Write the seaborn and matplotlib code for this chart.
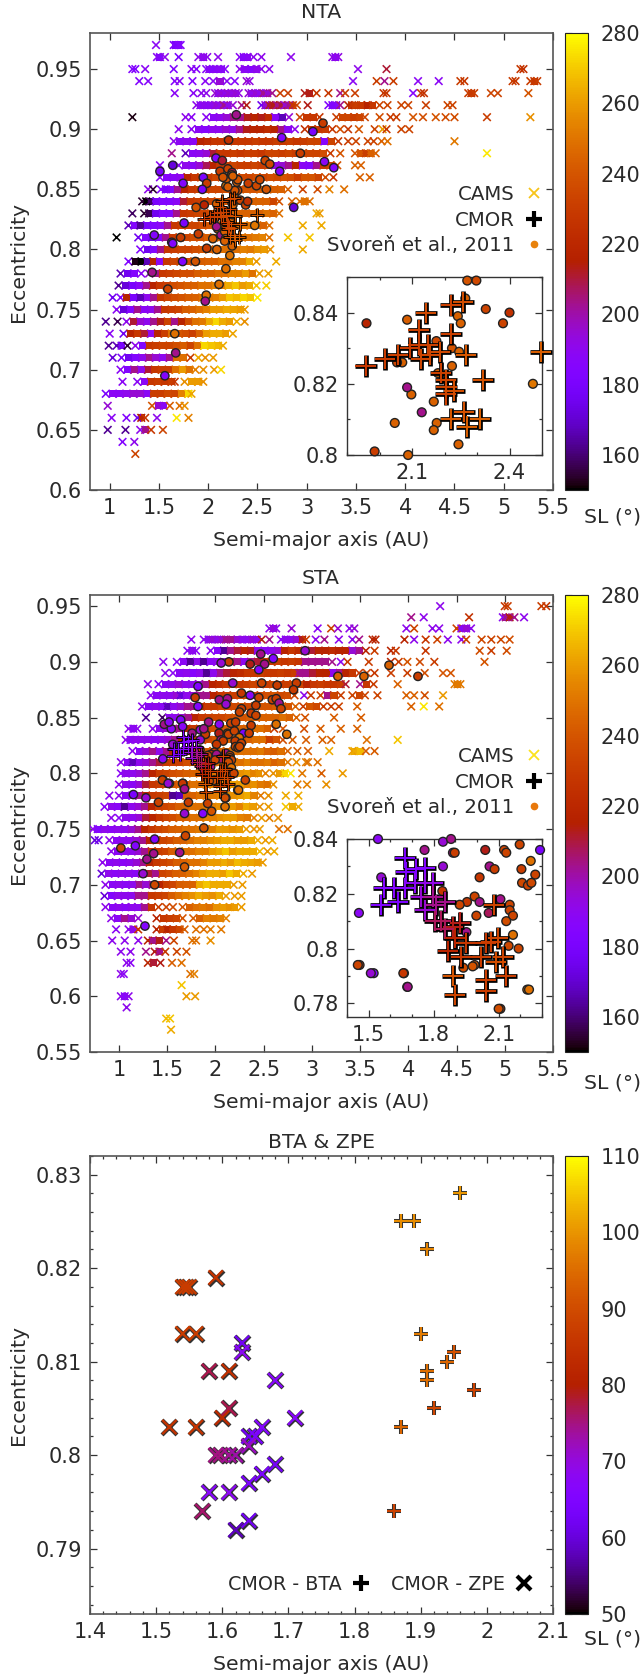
import matplotlib
matplotlib.use("Agg")
import matplotlib.pyplot as plt
import seaborn as sns
import numpy as np
from matplotlib.lines import Line2D
from matplotlib.cm import ScalarMappable
from matplotlib.colors import Normalize, FuncNorm
from matplotlib.ticker import MultipleLocator

# ---------- NTA, CAMS: one list per eccentricity row, flat pairs a, SL ----------
NTA_E = [.97,.96,.95,.94,.93,.92,.91,.90,.89,.88,.87,.86,.85,.84,.83,.82,.81,.80,.79,.78,.77,.76,.75,.74,.73,.72,.71,.70,.69,.68,.67,.66,.65,.64,.63]
NTA_ROWS = [
[1.47,195,1.65,190,1.67,185,1.70,190,1.72,190],
[1.48,195,1.51,190,1.56,197,1.70,185,1.90,197,1.95,197,1.99,197,2.10,197,2.32,195,2.36,192,2.40,195,2.46,197,2.54,197,2.84,197,3.26,198,3.29,195,3.32,198],
[1.23,190,1.26,188,1.36,195,1.65,188,1.83,195,1.88,192,1.98,192,2.01,195,2.05,190,2.09,195,2.13,195,2.17,192,2.32,197,2.37,195,2.44,192,2.49,197,2.54,197,2.62,197,3.52,197,3.81,210,5.17,222,5.20,220],
[1.30,190,1.39,192,1.66,192,1.71,195,1.84,190,1.97,195,2.05,195,2.12,200,2.19,195,2.27,192,2.39,200,2.42,198,3.47,195,3.71,225,3.79,205,3.88,225,4.13,195,4.34,195,4.56,225,4.60,222,5.09,225,5.12,222,5.27,225,5.31,222,5.34,225],
[1.66,195,1.85,195,1.93,197,1.98,197,2.07,200,2.10,197,2.13,200,2.17,197,2.20,200,2.24,198,2.28,200,2.31,198,2.41,200,2.44,197,2.48,200,2.52,197,2.56,205,2.60,200,2.65,205,2.73,225,2.81,225,2.98,212,3.03,212,3.10,222,3.22,222,3.34,205,3.39,225,3.49,225,3.78,222,3.81,222,4.08,192,4.16,222,4.19,220,4.64,225,4.67,222,4.70,225,4.87,228,4.94,228,5.25,235],
[1.88,197,1.92,195,1.96,197,2.00,195,2.04,197,2.08,200,2.12,197,2.16,205,2.20,197,2.25,200,2.34,205,2.39,212,2.54,180,2.58,200,2.62,210,2.66,212,2.70,205,2.74,210,2.78,200,2.82,205,2.86,222,2.90,228,3.01,212,3.22,190,3.26,188,3.30,192,3.34,205,3.42,215,3.46,222,3.50,225,3.55,222,3.62,215,3.67,222,3.74,228,3.82,228,3.96,228,4.03,228,4.21,225,4.43,228,4.48,228],
[1.23,152,1.77,197,1.83,195,1.98,195,2.05,195,2.12,197,2.19,200,2.26,205,2.33,205,2.40,212,2.47,215,2.54,212,2.61,218,2.68,195,2.75,170,2.82,200,2.93,228,3.00,222,3.07,222,3.13,222,3.30,225,3.36,228,3.42,228,3.48,225,3.54,228,3.59,228,3.74,232,3.85,225,3.91,225,4.08,235,4.18,232,4.31,235,4.41,232,4.50,232,4.83,225,5.27,255],
[1.70,197,1.83,195,1.90,195,1.97,192,2.04,197,2.11,197,2.18,200,2.25,198,2.32,205,2.39,212,2.46,215,2.53,215,2.60,218,2.67,215,2.74,205,2.81,195,2.88,197,2.98,220,3.05,222,3.12,222,3.19,225,3.26,222,3.34,232,3.42,222,3.53,235,3.69,228,3.77,258,3.81,222,3.96,228,4.04,228],
[1.65,197,1.71,195,1.78,197,1.85,195,1.92,215,1.99,218,2.06,222,2.13,222,2.20,220,2.27,222,2.34,222,2.41,222,2.48,225,2.55,222,2.62,222,2.69,225,2.76,222,2.83,225,2.90,222,2.97,225,3.04,228,3.11,228,3.18,192,3.25,228,3.32,222,3.42,225,3.50,228,3.62,228,3.68,228,3.76,240,3.82,245,4.50,248],
[1.63,205,1.77,170,1.84,195,1.91,197,1.98,200,2.05,210,2.12,222,2.19,222,2.26,225,2.33,222,2.40,225,2.47,225,2.54,222,2.61,228,2.68,228,2.75,225,2.82,228,2.89,225,2.96,228,3.03,228,3.10,228,3.17,232,3.24,225,3.34,235,3.49,235,3.55,235,3.60,225,3.65,240,3.70,240,4.83,275],
[1.51,195,1.70,195,1.77,197,1.84,195,1.91,200,1.98,208,2.05,215,2.12,222,2.19,225,2.26,228,2.33,225,2.40,225,2.47,228,2.54,225,2.61,228,2.68,198,2.75,200,2.82,205,2.89,215,2.96,195,3.03,192,3.10,205,3.17,225,3.24,228,3.31,235,3.49,240,3.55,240],
[1.51,195,1.58,192,1.65,195,1.72,197,1.79,215,1.86,222,1.93,225,2.00,222,2.07,228,2.14,228,2.21,225,2.28,228,2.35,230,2.42,228,2.49,232,2.56,228,2.63,232,2.70,230,2.77,235,2.84,232,2.91,225,2.98,235,3.05,235,3.12,228,3.19,232,3.27,225,3.54,240,3.64,240],
[1.39,197,1.44,155,1.52,190,1.57,185,1.62,190,1.69,205,1.76,215,1.83,222,1.90,225,1.97,222,2.04,228,2.11,228,2.18,232,2.25,228,2.32,232,2.39,235,2.46,235,2.53,238,2.60,240,2.67,238,2.74,240,2.81,240,2.96,228,3.11,232,3.23,250,3.38,245],
[1.33,155,1.37,150,1.41,160,1.47,185,1.54,190,1.61,190,1.68,195,1.75,210,1.82,222,1.89,225,1.96,228,2.03,228,2.10,232,2.17,235,2.24,232,2.31,238,2.38,238,2.45,240,2.52,240,2.59,240,2.66,228,2.72,235,2.85,240,2.93,245,2.98,245,3.03,245],
[1.23,160,1.35,155,1.40,158,1.47,180,1.54,190,1.61,190,1.68,205,1.75,222,1.82,225,1.89,228,1.96,228,2.03,232,2.10,232,2.17,235,2.24,238,2.31,240,2.38,240,2.45,240,2.52,240,2.59,245,2.66,240,2.72,245,3.10,262,3.13,258],
[1.19,170,1.25,190,1.31,165,1.38,185,1.45,190,1.52,195,1.59,205,1.66,222,1.73,225,1.80,228,1.87,228,1.94,232,2.01,235,2.08,235,2.15,240,2.22,240,2.29,245,2.36,245,2.43,245,2.50,248,2.56,240,2.62,245,2.96,262,3.15,262],
[1.07,150,1.29,180,1.36,190,1.43,175,1.50,190,1.57,205,1.64,222,1.71,225,1.78,228,1.85,232,1.92,232,1.99,238,2.06,238,2.13,240,2.20,245,2.27,245,2.34,245,2.41,245,2.48,248,2.55,250,2.62,245,2.81,268,3.03,268],
[1.31,190,1.38,180,1.45,190,1.52,205,1.59,222,1.66,225,1.73,228,1.80,228,1.87,232,1.94,235,2.01,238,2.08,240,2.15,245,2.22,245,2.29,245,2.36,250,2.43,248,2.50,255,2.57,258,2.63,255,2.96,262],
[1.19,188,1.26,152,1.32,150,1.38,170,1.44,215,1.51,195,1.58,222,1.65,228,1.72,228,1.79,232,1.86,235,1.93,238,2.00,240,2.07,240,2.14,245,2.21,245,2.28,250,2.35,250,2.42,262,2.49,258,2.69,262],
[1.11,170,1.18,180,1.25,190,1.32,195,1.40,200,1.47,205,1.54,222,1.61,225,1.68,228,1.75,232,1.82,232,1.89,238,1.96,240,2.03,240,2.10,245,2.17,245,2.24,250,2.31,250,2.38,258,2.45,245,2.52,258,2.61,260],
[1.09,165,1.16,175,1.23,185,1.30,195,1.37,205,1.44,215,1.51,222,1.58,225,1.65,232,1.72,235,1.79,238,1.86,240,1.93,245,2.00,245,2.07,250,2.14,250,2.21,262,2.28,268,2.35,258,2.42,262,2.49,268,2.59,270],
[1.03,180,1.11,190,1.17,215,1.24,185,1.31,170,1.38,197,1.45,205,1.52,222,1.59,228,1.66,232,1.73,235,1.80,238,1.87,240,1.94,245,2.01,248,2.08,250,2.15,258,2.22,268,2.29,265,2.36,272,2.43,268,2.50,275],
[1.07,195,1.14,175,1.21,190,1.28,205,1.35,195,1.42,197,1.49,205,1.56,222,1.63,225,1.70,228,1.77,238,1.84,240,1.91,245,1.98,250,2.05,258,2.12,258,2.19,262,2.26,260,2.33,258,2.37,258],
[.96,165,1.08,158,1.17,197,1.24,210,1.31,200,1.38,197,1.45,205,1.52,212,1.59,228,1.66,205,1.73,215,1.80,232,1.87,245,1.94,248,2.01,262,2.08,272,2.15,262,2.22,258,2.29,262,2.37,255],
[1.00,195,1.14,180,1.21,215,1.28,222,1.35,210,1.42,197,1.49,215,1.56,225,1.63,245,1.70,235,1.77,232,1.84,225,1.91,240,1.98,258,2.05,262,2.12,262,2.18,258,2.25,260],
[.99,165,1.07,170,1.12,185,1.18,155,1.26,197,1.33,190,1.40,222,1.47,225,1.54,228,1.61,228,1.68,232,1.75,238,1.82,228,1.89,245,1.96,272,2.03,268,2.10,265,2.15,262],
[1.03,175,1.12,185,1.19,180,1.26,190,1.33,197,1.40,205,1.47,200,1.54,197,1.61,205,1.68,245,1.75,245,1.82,225,1.90,262,1.97,255,2.05,258],
[1.11,195,1.18,190,1.25,205,1.32,197,1.39,210,1.46,222,1.53,225,1.60,225,1.67,245,1.74,258,1.81,245,1.87,250,1.95,255,2.06,258,2.13,272],
[1.13,195,1.28,195,1.35,195,1.42,222,1.49,225,1.56,222,1.63,225,1.66,222,1.76,255,1.83,258,1.90,258,1.95,255],
[.96,185,1.03,195,1.10,195,1.17,197,1.24,200,1.31,200,1.38,195,1.45,225,1.52,225,1.59,230,1.66,228,1.73,250,1.80,272,1.83,260],
[.98,200,1.43,235,1.50,200,1.55,195,1.61,238,1.71,245,1.76,255],
[1.02,195,1.17,190,1.28,180,1.32,215,1.36,222,1.48,197,1.68,275,1.80,250],
[.98,165,1.16,165,1.31,197,1.36,205,1.42,222,1.54,228],
[1.13,190,1.25,197],
[1.26,228],
]

# ---------- STA, CAMS ----------
STA_E = [.95,.94,.93,.92,.91,.90,.89,.88,.87,.86,.85,.84,.83,.82,.81,.80,.79,.78,.77,.76,.75,.74,.73,.72,.71,.70,.69,.68,.67,.66,.65,.64,.63,.62,.61,.60,.59,.58,.57]
STA_ROWS = [
[4.33,197,5.00,222,5.03,225,5.38,225,5.43,222],
[4.03,205,4.16,197,4.63,220,4.98,195,5.01,205,5.05,212,5.10,205,5.20,197],
[2.56,197,2.60,200,2.63,197,2.79,200,3.06,195,3.20,228,3.27,200,3.39,197,3.44,200,3.98,197,4.06,228,4.25,197,4.32,197,4.50,228,4.55,195,4.60,200,4.65,197],
[1.75,197,1.88,197,1.93,197,1.97,200,2.02,197,2.06,200,2.11,205,2.16,205,2.23,200,2.28,197,2.33,197,2.38,200,2.43,197,2.48,212,2.56,205,2.68,195,2.73,197,2.78,197,2.84,200,2.90,212,2.94,225,3.04,197,3.13,205,3.28,197,3.42,197,3.49,205,3.63,215,3.66,215,3.96,215,4.06,197,4.18,222,4.30,228,4.41,197,4.55,197,4.60,228,4.76,230,4.86,228,4.96,230,5.05,232],
[1.71,195,1.76,197,1.80,195,1.95,195,2.02,192,2.09,165,2.16,205,2.23,210,2.30,215,2.37,212,2.44,197,2.51,195,2.58,197,2.65,200,2.72,215,2.79,222,2.86,218,2.93,205,3.00,210,3.07,215,3.14,215,3.21,218,3.28,215,3.35,215,3.42,200,3.49,205,3.56,215,3.65,225,3.82,215,3.87,222,4.18,222,4.74,232,4.86,225,5.02,232],
[1.46,197,1.60,195,1.67,195,1.74,165,1.81,197,1.88,165,1.95,195,2.02,197,2.09,200,2.16,210,2.23,205,2.30,197,2.37,205,2.44,210,2.51,222,2.58,222,2.65,225,2.72,222,2.79,225,2.86,222,2.93,205,3.00,205,3.07,205,3.14,205,3.21,205,3.30,197,3.37,225,3.59,225,3.82,215,3.90,225,3.99,235,4.12,230,4.27,225,4.79,235],
[1.48,197,1.56,195,1.63,195,1.70,197,1.77,192,1.84,197,1.91,165,1.98,197,2.05,205,2.12,210,2.19,215,2.26,218,2.33,222,2.40,222,2.47,225,2.54,222,2.61,222,2.68,225,2.75,222,2.82,225,2.87,205,2.94,205,3.01,210,3.08,215,3.15,215,3.22,197,3.29,205,3.35,215,3.42,222,3.49,222,3.57,228,3.65,222,3.82,225,3.99,225,4.17,232,4.36,235,4.44,235],
[1.30,197,1.41,195,1.48,195,1.55,197,1.62,200,1.69,197,1.76,197,1.83,200,1.90,205,1.97,215,2.04,218,2.11,222,2.18,222,2.25,222,2.32,225,2.39,228,2.46,225,2.53,225,2.60,228,2.67,222,2.74,225,2.81,228,2.88,228,2.95,215,3.02,222,3.09,225,3.16,222,3.23,222,3.30,225,3.35,210,3.50,205,3.57,222,3.64,225,3.89,240,4.48,248,4.51,248,4.54,248],
[1.33,197,1.39,195,1.46,197,1.53,197,1.60,200,1.64,175,1.70,197,1.77,200,1.84,205,1.91,205,1.98,215,2.05,222,2.12,225,2.19,225,2.26,228,2.33,228,2.40,230,2.47,228,2.54,232,2.61,235,2.68,230,2.75,232,2.82,228,2.92,197,2.99,225,3.09,228,3.16,205,3.23,228,3.30,225,3.42,228,3.49,228,3.55,228,3.68,228,3.98,240,4.06,240,4.17,232,4.36,258],
[1.24,197,1.31,195,1.38,197,1.45,195,1.50,170,1.57,197,1.64,200,1.71,205,1.78,205,1.85,215,1.92,222,1.99,222,2.06,228,2.13,228,2.20,230,2.27,232,2.34,228,2.41,232,2.48,235,2.55,235,2.62,238,2.69,240,2.76,235,2.83,240,2.91,225,2.98,235,3.05,230,3.12,225,3.20,225,3.28,228,3.47,238,4.03,240,4.16,275,4.32,245],
[1.28,165,1.45,160,1.52,197,1.58,197,1.65,200,1.72,205,1.79,215,1.86,222,1.93,225,2.00,228,2.07,228,2.14,232,2.21,235,2.28,235,2.35,238,2.42,240,2.49,240,2.56,240,2.63,240,2.70,245,2.77,240,2.84,240,2.93,235,3.23,238,3.51,238],
[1.10,197,1.15,195,1.19,197,1.35,197,1.42,197,1.49,200,1.56,205,1.63,205,1.70,215,1.77,222,1.84,225,1.91,228,1.98,232,2.05,235,2.12,238,2.19,238,2.26,240,2.33,240,2.40,245,2.47,245,2.54,240,2.61,225,2.70,235,2.92,232,3.09,238,3.30,240,3.47,240],
[1.07,197,1.12,195,1.17,197,1.23,197,1.30,197,1.37,195,1.44,197,1.51,200,1.58,205,1.65,215,1.72,222,1.79,222,1.86,228,1.93,230,2.00,235,2.07,238,2.14,240,2.21,240,2.28,235,2.35,240,2.42,245,2.49,245,2.56,225,2.63,235,2.70,232,2.80,238,2.94,238,3.11,240,3.20,240,3.57,245,3.89,268],
[1.14,197,1.21,195,1.28,200,1.35,205,1.42,197,1.49,205,1.56,215,1.63,222,1.70,225,1.77,228,1.84,232,1.91,235,1.98,238,2.05,240,2.12,240,2.19,245,2.26,245,2.33,245,2.40,245,2.47,248,2.54,240,2.61,238,2.68,245,2.75,240,2.85,238,2.96,238,3.18,262,3.42,258,3.44,262,3.50,265,3.56,238,3.65,238],
[1.02,197,1.09,195,1.14,170,1.21,197,1.28,200,1.35,205,1.42,210,1.49,222,1.56,225,1.63,225,1.70,232,1.77,235,1.84,238,1.91,240,1.98,240,2.05,245,2.12,245,2.19,248,2.26,245,2.33,250,2.40,245,2.47,245,2.54,248,2.61,240,2.68,245,2.75,248,2.84,255,2.94,250,2.96,245,3.06,245],
[1.02,195,1.07,197,1.14,197,1.21,200,1.28,205,1.35,215,1.42,225,1.49,228,1.56,232,1.63,235,1.70,238,1.77,240,1.84,240,1.91,245,1.98,245,2.05,248,2.12,250,2.19,250,2.26,255,2.33,258,2.40,250,2.45,255,2.52,250,2.60,255,2.67,258,2.72,272,2.78,275,2.90,248,3.10,238,3.32,258],
[1.00,197,1.07,197,1.14,195,1.21,200,1.28,210,1.35,222,1.42,225,1.49,228,1.56,235,1.63,238,1.70,240,1.77,245,1.84,245,1.91,248,1.98,250,2.05,250,2.12,255,2.19,258,2.26,258,2.33,250,2.40,255,2.47,248,2.54,245,2.60,255,2.85,248,2.95,250,3.15,255],
[.90,197,1.00,197,1.07,195,1.14,197,1.21,205,1.28,215,1.35,222,1.42,225,1.49,228,1.56,165,1.63,170,1.70,238,1.77,240,1.84,245,1.91,245,1.98,248,2.05,250,2.12,255,2.19,255,2.26,258,2.33,262,2.40,250,2.47,248,2.55,255,2.73,262,2.86,262],
[.85,195,.92,197,.99,195,1.06,165,1.13,197,1.20,200,1.27,205,1.34,215,1.41,225,1.48,228,1.55,232,1.62,238,1.69,240,1.76,245,1.83,245,1.90,248,1.97,250,2.04,255,2.11,258,2.18,258,2.25,250,2.32,262,2.39,258,2.46,255,2.55,258,2.73,268,2.80,262,2.86,262],
[.92,197,1.00,195,1.07,197,1.14,197,1.21,200,1.28,210,1.35,215,1.42,222,1.49,228,1.56,232,1.63,238,1.70,240,1.77,245,1.84,245,1.91,250,1.98,250,2.05,255,2.12,258,2.19,258,2.26,250,2.33,248,2.40,250,2.48,258,2.56,250,2.65,255],
[.73,197,.78,190,.85,197,.92,195,.99,197,1.06,197,1.13,200,1.20,205,1.27,215,1.34,222,1.41,228,1.48,232,1.55,238,1.62,240,1.69,245,1.76,245,1.83,248,1.90,250,1.97,250,2.04,258,2.11,258,2.18,255,2.25,258,2.32,258,2.40,255,2.46,258,2.66,245,2.75,245],
[.75,175,.79,180,.90,197,.97,195,1.04,197,1.11,197,1.18,200,1.25,205,1.32,215,1.39,222,1.46,228,1.53,232,1.60,238,1.67,240,1.74,245,1.81,250,1.88,250,1.95,255,2.02,258,2.09,262,2.16,262,2.23,258,2.30,258,2.37,262,2.44,262,2.52,258,2.59,262],
[.92,197,.99,195,1.06,197,1.13,197,1.20,200,1.27,205,1.34,222,1.41,225,1.48,228,1.55,238,1.62,240,1.69,245,1.76,245,1.83,250,1.90,250,1.97,258,2.04,262,2.11,268,2.18,258,2.25,262,2.32,262,2.39,262,2.46,265,2.54,258,2.61,262],
[.83,197,.90,195,.97,197,1.04,195,1.11,197,1.18,200,1.25,205,1.32,215,1.39,222,1.46,228,1.53,232,1.60,238,1.67,240,1.74,245,1.81,245,1.88,250,1.95,258,2.02,258,2.09,262,2.16,258,2.23,265,2.30,262,2.37,260,2.44,258,2.49,258],
[.82,175,.89,197,.96,195,1.03,197,1.10,197,1.17,195,1.24,205,1.31,210,1.38,205,1.45,228,1.52,232,1.59,238,1.66,240,1.73,245,1.80,250,1.87,258,1.94,262,2.01,262,2.08,258,2.15,268,2.22,262,2.29,262,2.38,258],
[.86,197,.93,195,1.00,197,1.07,195,1.14,197,1.21,205,1.28,200,1.35,205,1.42,215,1.49,225,1.56,228,1.63,238,1.70,240,1.77,240,1.84,262,1.91,268,1.98,262,2.05,262,2.12,262,2.19,258,2.28,258],
[.85,175,.92,190,.99,197,1.06,197,1.13,197,1.20,205,1.27,205,1.34,222,1.41,225,1.48,228,1.55,238,1.62,245,1.69,250,1.76,255,1.83,262,1.90,258,1.97,255,2.04,262,2.11,258,2.20,258,2.27,258],
[.86,197,.93,195,1.00,197,1.07,195,1.13,197,1.20,197,1.27,205,1.34,222,1.41,225,1.49,228,1.56,232,1.66,238,1.73,240,1.80,245,1.87,248,1.94,245,2.01,255,2.08,258,2.15,255,2.20,258,2.27,258],
[.92,197,.99,195,1.06,205,1.13,200,1.20,200,1.39,215,1.46,222,1.53,225,1.60,228,1.66,235,1.77,238,1.84,240,1.91,250,1.98,248,2.05,250,2.11,250],
[.97,195,1.10,197,1.15,197,1.20,222,1.39,215,1.45,225,1.50,215,1.56,222,1.63,228,1.68,238,1.80,245,1.88,245,1.95,248,2.06,248],
[.93,197,1.06,197,1.20,197,1.30,215,1.35,205,1.42,212,1.49,205,1.57,228,1.76,245,1.80,245,1.95,255],
[1.02,197,1.12,197,1.28,205,1.37,212,1.42,205,1.48,222,1.60,228,1.70,235],
[1.08,197,1.12,195,1.30,215,1.36,210,1.43,212,1.55,238,1.65,245],
[1.02,197,1.05,195,1.74,245,1.78,250],
[1.65,268],
[1.02,197,1.06,192,1.10,197,1.70,258,1.79,258],
[1.08,197],
[1.49,265,1.53,268],
[1.54,262],
[1.46,265],
]

# ---------- Svoren et al. 2011 (circles) ----------
NTA_SV_A = [1.96,1.985,2.047,2.085,2.088,2.07,2.054,2.098,2.085,2.13,2.175,2.18,2.167,2.176,2.167,2.223,2.223,2.243,2.245,2.241,2.25,2.264,2.298,2.327,2.38,2.40,2.472,2.285,2.207,2.746,3.165,3.063,2.935,2.079,1.64,1.51,3.18,3.275,2.726,2.578,2.625,2.143,2.12,2.2,2.243,1.95,1.985,1.94,1.745,2.406,2.49,2.524,2.59,2.18,2.187,2.27,2.29,2.3,2.868,1.877,1.755,1.452,1.63,1.72,1.9,1.64,2.22,1.74,1.87,2.18,1.43,2.11,1.59,1.98,1.97,1.66,1.67,1.56,2.15,2.24,2.2,2.25]
NTA_SV_E = [.837,.801,.809,.838,.800,.826,.826,.817,.819,.812,.832,.823,.815,.809,.807,.830,.825,.803,.829,.839,.837,.844,.849,.841,.837,.840,.820,.912,.891,.893,.905,.898,.880,.876,.870,.865,.873,.868,.865,.874,.871,.874,.865,.867,.864,.860,.855,.850,.855,.855,.853,.858,.850,.853,.859,.849,.856,.858,.835,.835,.822,.812,.806,.810,.813,.805,.795,.79,.79,.784,.781,.771,.767,.762,.757,.73,.714,.695,.860,.862,.852,.861]
NTA_SV_SL = [215,225,240,238,240,240,228,240,205,205,230,238,240,240,240,235,240,240,240,240,240,240,230,228,228,220,247,205,220,190,225,185,225,190,175,185,195,190,190,230,230,210,225,228,210,185,225,185,190,225,230,230,235,248,235,235,238,235,175,235,185,190,190,225,225,190,247,190,235,245,205,245,228,245,205,245,205,190,235,240,238,240]

# ---------- CMOR (plus) ----------
NTA_CM_A = [1.957,2.018,2.057,2.093,2.12,2.12,2.129,2.142,2.149,2.154,2.185,2.188,2.204,2.204,2.206,2.23,2.219,2.257,2.219,2.267,2.318,2.219,2.259,2.269,2.31,2.498]
NTA_CM_E = [.825,.827,.828,.830,.835,.831,.827,.840,.831,.828,.829,.823,.821,.817,.819,.818,.842,.843,.834,.828,.821,.810,.812,.808,.810,.829]
NTA_CM_SL = [222,224,226,224,226,224,228,230,226,228,230,226,228,226,228,232,226,232,226,236,234,236,234,238,238,238]

STA_SV_A = [1.543,1.758,1.843,1.889,1.897,2.038,2.125,2.135,2.197,2.291,2.248,1.843,2.058,2.081,2.205,2.269,2.012,1.558,2.208,2.235,2.251,1.84,1.989,1.954,1.92,2.012,2.108,2.151,2.151,2.054,1.997,2.166,2.135,1.455,1.951,2.166,2.146,2.192,1.458,1.523,1.663,1.678,1.989,1.98,2.232,2.108,1.937,2.93,2.47,2.6,2.51,2.45,2.36,2.14,2.06,3.27,2.84,2.81,2.64,2.48,2.18,1.82,2.27,2.36,2.45,1.79,2.04,2.125,2.11,1.82,2.59,2.63,2.66,2.68,2.42,2.27,2.25,2.37,2.42,2.16,2.21,2.63,2.74,1.93,1.88,1.47,1.52,1.64,1.66,2.04,2.37,2.35,2.31,2.24,2.1,2.1,1.96,1.87,1.68,1.72,1.41,1.28,1.15,1.45,1.51,1.66,1.68,1.92,1.88,1.69,1.37,1.17,1.02,1.36,1.29,1.63,1.68,1.25,1.37,1.27,3.54,3.8,4.1]
STA_SV_E = [.840,.836,.839,.835,.835,.836,.836,.835,.838,.836,.832,.830,.830,.829,.829,.827,.826,.826,.824,.823,.824,.821,.819,.817,.816,.817,.818,.816,.814,.813,.812,.812,.810,.813,.806,.805,.801,.800,.794,.791,.791,.786,.794,.7935,.785,.778,.793,.910,.907,.903,.898,.893,.898,.900,.899,.887,.881,.875,.879,.881,.881,.878,.872,.870,.868,.868,.866,.867,.862,.860,.866,.867,.863,.858,.861,.858,.855,.854,.852,.845,.846,.844,.835,.846,.840,.844,.846,.848,.842,.844,.843,.836,.794,.785,.770,.778,.766,.764,.764,.774,.774,.778,.781,.794,.791,.791,.786,.773,.751,.744,.741,.735,.733,.728,.723,.729,.716,.710,.700,.663,.887,.897,.887]
STA_SV_SL = [195,205,200,205,225,212,228,228,228,185,245,200,205,225,225,228,222,200,230,228,230,222,228,222,228,205,205,228,228,208,228,228,232,195,205,245,230,228,228,190,222,200,235,235,245,225,232,200,205,190,205,190,212,225,200,240,225,225,225,228,200,190,222,195,228,225,205,205,200,190,228,225,205,228,225,225,228,225,228,228,225,245,245,205,205,205,195,190,195,195,225,225,228,245,245,232,235,190,200,225,228,200,185,228,200,222,205,228,235,230,190,190,228,205,205,205,238,200,230,190,240,240,225]

STA_CM_A = [1.669,1.671,1.72,1.762,1.558,1.635,1.571,1.615,1.666,1.712,1.758,1.797,1.743,1.797,1.851,1.758,1.809,1.805,1.835,1.92,1.889,1.851,1.897,1.948,1.866,1.928,2.017,2.043,2.066,2.097,2.077,2.12,2.089,2.132,2.043,2.043,1.9,1.889]
STA_CM_E = [.833,.828,.829,.8295,.816,.817,.822,.822,.822,.824,.824,.824,.819,.819,.817,.814,.816,.810,.810,.8095,.808,.807,.804,.802,.799,.797,.797,.802,.8025,.804,.816,.797,.795,.790,.7885,.7845,.783,.790]
STA_CM_SL = [185,185,188,190,188,185,190,190,192,195,197,198,200,205,205,200,205,208,208,212,212,208,215,222,215,222,225,222,225,228,228,228,232,225,225,225,228,235]

# ---------- BTA & ZPE (CMOR) ----------
BTA_A = [1.96,1.87,1.89,1.91,1.90,1.95,1.94,1.91,1.91,1.98,1.92,1.87,1.86]
BTA_E = [.828,.825,.825,.822,.813,.811,.810,.809,.808,.807,.805,.803,.794]
BTA_SL = [100,99,99,98,97,91,94,95,95,88,89,94,88]
ZPE_A = [1.54,1.545,1.55,1.59,1.54,1.56,1.58,1.61,1.63,1.63,1.68,1.61,1.60,1.71,1.52,1.56,1.66,1.64,1.65,1.64,1.59,1.597,1.61,1.62,1.68,1.66,1.64,1.58,1.61,1.57,1.64,1.62]
ZPE_E = [.818,.818,.818,.819,.813,.813,.809,.809,.812,.811,.808,.805,.804,.804,.803,.803,.803,.802,.802,.801,.800,.800,.800,.800,.799,.798,.797,.796,.796,.794,.793,.792]
ZPE_SL = [87,87,87,85,87,87,77,84,62,68,67,77,83,67,85,85,66,62,64,72,75,75,74,73,63,64,64,67,68,76,62,58]

TITLES = ["NTA", "STA", "BTA & ZPE"]
CMAP = "gnuplot"
INK = "#2a2a2a"
W, H = 641, 1676
FS = 14.7
TICK_FS = 15

sns.set_theme(style="white", rc={"font.family": ["DejaVu Sans"], "text.color": INK, "axes.labelcolor": INK,
                                 "xtick.color": INK, "ytick.color": INK})
fig = plt.figure(figsize=(W / 100, H / 100), dpi=100, facecolor="white")


def px_axes(x0, y0, x1, y1, **kw):
    return fig.add_axes([x0 / W, 1 - y1 / H, (x1 - x0) / W, (y1 - y0) / H], **kw)


def style(ax, color="#555555", lw=1.2, size=TICK_FS):
    for s in ax.spines.values():
        s.set_visible(True)
        s.set_color(color)
        s.set_linewidth(lw)
    ax.tick_params(which="both", direction="in", top=True, right=True, bottom=True, left=True,
                   labelsize=size, color="#333333", width=0.9, pad=6)
    ax.tick_params(which="major", length=5)
    ax.tick_params(which="minor", length=2.5)
    ax.set_xlabel("")
    ax.set_ylabel("")


def rows_to_arrays(rows, es):
    a, e, sl = [], [], []
    for row, ev in zip(rows, es):
        aa, ss = row[0::2], row[1::2]
        a += aa
        sl += ss
        e += [ev] * len(aa)
    return np.array(a), np.array(e), np.array(sl)


def interior_mask(a, e, gap=0.078):
    """True for CAMS points with close neighbours on both sides: the row reads as a solid band."""
    m = np.zeros(len(a), bool)
    for ev in np.unique(e):
        idx = np.where(e == ev)[0]
        d = np.diff(a[idx])
        m[idx[1:-1]] = (d[:-1] < gap) & (d[1:] < gap)
    return m


# how the colour scale reads against the values
READ = [150, 197, 205, 222, 245, 260, 280]
FRAC = [0, .31, .41, .60, .76, .86, 1]
NORM1 = FuncNorm((lambda v: np.interp(v, READ, FRAC), lambda n: np.interp(n, FRAC, READ)), vmin=150, vmax=280)


def cams(ax, a, e, sl, norm):
    m = interior_mask(a, e)
    sns.scatterplot(x=a[m], y=e[m], hue=sl[m], palette=CMAP, hue_norm=norm, legend=False, ax=ax,
                    marker="s", s=26, linewidth=0, zorder=2)
    sns.scatterplot(x=a, y=e, hue=sl, palette=CMAP, hue_norm=norm, legend=False, ax=ax,
                    marker="x", s=30, linewidth=1.15, zorder=3)


def circles(ax, a, e, sl, norm, s=36):
    sns.scatterplot(x=a, y=e, hue=sl, palette=CMAP, hue_norm=norm, legend=False, ax=ax,
                    marker="o", s=s, edgecolor="#222222", linewidth=1.0, zorder=4, clip_on=False)


def cross(ax, a, e, sl, norm, s, lw_back, lw_front, marker="+", back="black", z=5):
    sns.scatterplot(x=a, y=e, color=back, legend=False, ax=ax, marker=marker, s=s * 1.1,
                    linewidth=lw_back, zorder=z, clip_on=False)
    sns.scatterplot(x=a, y=e, hue=sl, palette=CMAP, hue_norm=norm, legend=False, ax=ax, marker=marker, s=s,
                    linewidth=lw_front, zorder=z + 1, clip_on=False)


def colorbar(y0, y1, ticks, sl_y):
    cax = px_axes(565, y0, 588, y1)
    cb = fig.colorbar(ScalarMappable(Normalize(ticks[0] if ticks[0] == 50 else 150, ticks[-1]), CMAP), cax=cax, ticks=ticks)
    cb.outline.set_edgecolor("#222222")
    cb.outline.set_linewidth(0.8)
    cax.tick_params(which="major", direction="in", left=True, right=True, length=5, width=0.8,
                    color="black", labelsize=TICK_FS, pad=9)
    cax.minorticks_off()
    fig.text(612 / W, 1 - sl_y / H, "SL (°)", ha="center", va="center", fontsize=FS)


def key(label, **kw):
    return Line2D([], [], linestyle="none", label=label, **kw)


def three_key(ax, y, cams_color, sv_color):
    handles = [key("CAMS", marker="x", color=cams_color, markersize=6.5, markeredgewidth=1.3),
               key("CMOR", marker="+", color="black", markersize=12, markeredgewidth=3.0),
               key("Svoreň et al., 2011", marker="o", color=sv_color, markersize=4.5)]
    leg = ax.legend(handles=handles, loc="center right", frameon=False, fontsize=14.2, markerfirst=False,
                    bbox_to_anchor=(544 / W, 1 - y / H), bbox_transform=fig.transFigure,
                    labelspacing=0.32, handlelength=1.0, handletextpad=0.5, borderpad=0, borderaxespad=0)
    leg.set_zorder(8)


def main_axes(y0, y1, title_y, title, xlim, ylim, xt, yt, ylabels):
    ax = px_axes(90, y0, 553, y1)
    style(ax)
    ax.set_xlim(*xlim)
    ax.set_ylim(*ylim)
    ax.set_xticks(xt)
    ax.set_yticks(yt)
    ax.set_xticklabels(["%g" % v for v in xt])
    ax.set_yticklabels(ylabels)
    fig.text(321 / W, 1 - title_y / H, title, ha="center", va="center", fontsize=FS)
    fig.text(321 / W, 1 - (y1 + 50) / H, "Semi-major axis (AU)", ha="center", va="center", fontsize=FS)
    fig.text(19 / W, 1 - (y0 + y1) / 2 / H, "Eccentricity", ha="center", va="center", rotation=90, fontsize=FS)
    return ax


def inset(box, xlim, ylim, xt, yt, xminor, yminor, ylabels):
    ins = px_axes(*box, zorder=6)
    ins.set_facecolor("white")
    style(ins, color="#333333", lw=1.0)
    ins.set_xlim(*xlim)
    ins.set_ylim(*ylim)
    ins.set_xticks(xt)
    ins.set_yticks(yt)
    ins.set_xticklabels(["%g" % v for v in xt])
    ins.set_yticklabels(ylabels)
    ins.xaxis.set_minor_locator(MultipleLocator(xminor))
    ins.yaxis.set_minor_locator(MultipleLocator(yminor))
    return ins


def inside(a, e, sl, xlim, ylim, x_open=False, y_open=False):
    a, e, sl = np.array(a), np.array(e), np.array(sl)
    mx = (a > xlim[0]) if x_open else (a >= xlim[0])
    my = (e < ylim[1]) if y_open else (e <= ylim[1])
    m = mx & (a <= xlim[1]) & (e >= ylim[0]) & my
    return a[m], e[m], sl[m]


# ---------- NTA ----------
ax1 = main_axes(33, 490, 12, TITLES[0], (0.8, 5.5), (0.6, 0.98), [1, 1.5, 2, 2.5, 3, 3.5, 4, 4.5, 5, 5.5],
                [.6, .65, .7, .75, .8, .85, .9, .95], ["0.6", "0.65", "0.7", "0.75", "0.8", "0.85", "0.9", "0.95"])
a, e, sl = rows_to_arrays(NTA_ROWS, NTA_E)
cams(ax1, a, e, sl, NORM1)
circles(ax1, np.array(NTA_SV_A), np.array(NTA_SV_E), np.array(NTA_SV_SL), NORM1)
cross(ax1, NTA_CM_A, NTA_CM_E, np.array(NTA_CM_SL), NORM1, 80, 2.0, 0.8)
three_key(ax1, 220, "#f7c41a", "#e8820c")
XL, YL = (1.9, 2.5), (0.8, 0.85)
ins1 = inset((347, 277, 542, 455), XL, YL, [2.1, 2.4], [.8, .82, .84], 0.1, 0.01, ["0.8", "0.82", "0.84"])
circles(ins1, *inside(NTA_SV_A, NTA_SV_E, NTA_SV_SL, XL, YL, x_open=True, y_open=True), NORM1, s=40)
cross(ins1, *inside(NTA_CM_A, NTA_CM_E, NTA_CM_SL, XL, YL), NORM1, 210, 3.4, 1.5)
ins1.set_xlim(*XL)
ins1.set_ylim(*YL)
colorbar(33, 490, [160, 180, 200, 220, 240, 260, 280], 517)

# ---------- STA ----------
ax2 = main_axes(595, 1052, 578, TITLES[1], (0.7, 5.5), (0.55, 0.96), [1, 1.5, 2, 2.5, 3, 3.5, 4, 4.5, 5, 5.5],
                [.55, .6, .65, .7, .75, .8, .85, .9, .95], ["0.55", "0.6", "0.65", "0.7", "0.75", "0.8", "0.85", "0.9", "0.95"])
a, e, sl = rows_to_arrays(STA_ROWS, STA_E)
cams(ax2, a, e, sl, NORM1)
circles(ax2, np.array(STA_SV_A), np.array(STA_SV_E), np.array(STA_SV_SL), NORM1)
cross(ax2, STA_CM_A, STA_CM_E, np.array(STA_CM_SL), NORM1, 80, 2.0, 0.8)
three_key(ax2, 782, "#fbe21e", "#e8780c")
XL, YL = (1.4, 2.3), (0.775, 0.84)
ins2 = inset((347, 839, 542, 1017), XL, YL, [1.5, 1.8, 2.1], [.78, .8, .82, .84], 0.1, 0.01, ["0.78", "0.8", "0.82", "0.84"])
circles(ins2, *inside(STA_SV_A, STA_SV_E, STA_SV_SL, XL, YL), NORM1, s=40)
cross(ins2, *inside(STA_CM_A, STA_CM_E, STA_CM_SL, XL, YL), NORM1, 210, 3.4, 1.5)
ins2.set_xlim(*XL)
ins2.set_ylim(*YL)
colorbar(595, 1052, [160, 180, 200, 220, 240, 260, 280], 1083)

# ---------- BTA & ZPE ----------
NORM3 = (50, 110)
ax3 = main_axes(1156, 1614, 1142, TITLES[2], (1.4, 2.1), (0.783, 0.832), [1.4, 1.5, 1.6, 1.7, 1.8, 1.9, 2, 2.1],
                [.79, .8, .81, .82, .83], ["0.79", "0.8", "0.81", "0.82", "0.83"])
ax3.xaxis.set_minor_locator(MultipleLocator(0.02))
ax3.yaxis.set_minor_locator(MultipleLocator(0.002))
cross(ax3, BTA_A, BTA_E, np.array(BTA_SL), NORM3, 100, 2.9, 1.5, marker="+", back="#333333")
cross(ax3, ZPE_A, ZPE_E, np.array(ZPE_SL), NORM3, 105, 3.0, 1.7, marker="x", back="#333333")
ax3.legend(handles=[key("CMOR - BTA", marker="+", color="black", markersize=12, markeredgewidth=3.0),
                    key("CMOR - ZPE", marker="x", color="black", markersize=10, markeredgewidth=3.0)],
           loc="center right", ncols=2, frameon=False, fontsize=13.8, markerfirst=False,
           bbox_to_anchor=(534 / W, 1 - 1584 / H), bbox_transform=fig.transFigure,
           handlelength=1.0, handletextpad=0.5, columnspacing=1.1, borderpad=0, borderaxespad=0)
colorbar(1156, 1614, [50, 60, 70, 80, 90, 100, 110], 1639)

fig.savefig("out.png", dpi=100, facecolor="white")
